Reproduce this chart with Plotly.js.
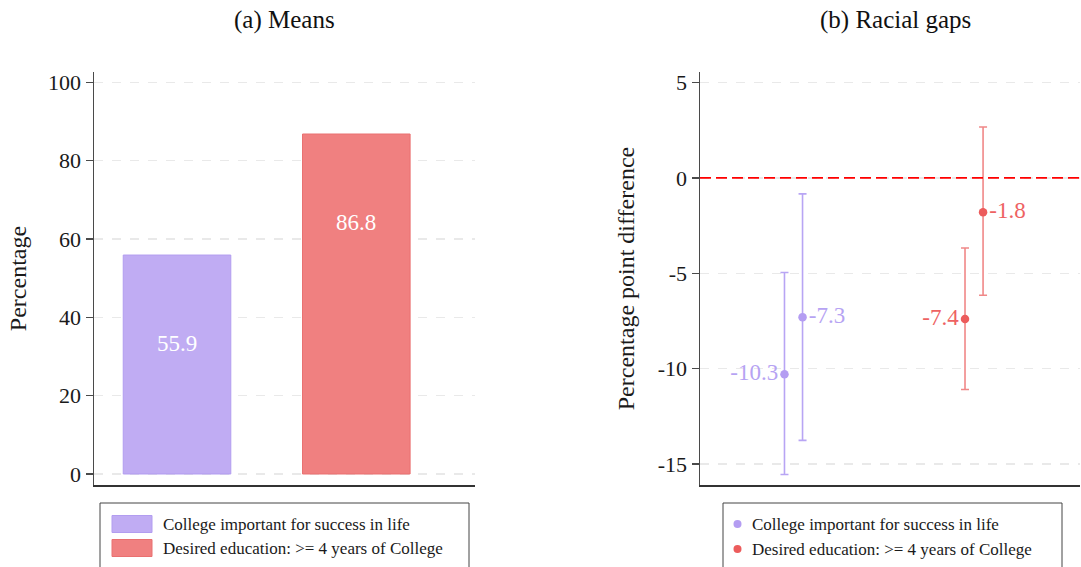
<!DOCTYPE html>
<html>
<head>
<meta charset="utf-8">
<script src="https://cdn.plot.ly/plotly-3.0.1.min.js"></script>
<style>
  html, body { margin: 0; padding: 0; background: #fff; }
  #chart { width: 1081px; height: 567px; }
</style>
</head>
<body>
<div id="chart"></div>
<script>
// Outcome names (shared by both panels)
const seriesNames = ['College important for success in life', 'Desired education: >= 4 years of College'];

// Panel (a): means, in percent
const meanValues = [55.9, 86.8];

// Panel (b): racial gaps (percentage points), two estimates per outcome, with 95% CIs
const gapCollege = [-10.3, -7.3];
const gapCollegeLow = [-15.55, -13.76];
const gapCollegeHigh = [-4.96, -0.84];
const gapDesired = [-7.4, -1.8];
const gapDesiredLow = [-11.09, -6.15];
const gapDesiredHigh = [-3.68, 2.67];

const leftTicks = [0, 20, 40, 60, 80, 100];
const rightTicks = [5, 0, -5, -10, -15];

const purpleFill = '#c0acf3';
const purpleLine = '#b29df0';
const purpleMark = '#b49df2';
const purpleText = '#b6a3f3';
const redFill = '#f08080';
const redLine = '#e97070';
const redMark = '#ec5c5c';
const redBar = '#f08888';
const redText = '#ee6262';

const serif = 'Liberation Serif, Times New Roman, serif';
const axisColor = '#4a4a4a';
const gridColor = '#e9e9e9';

const plotTop = 1 - 72 / 567;
const plotBottom = 1 - 485 / 567;

// Bars for panel (a)
const barTraces = meanValues.map((v, i) => ({
  type: 'bar',
  x: [i],
  y: [v],
  width: 0.6,
  name: seriesNames[i],
  marker: {
    color: i === 0 ? purpleFill : redFill,
    line: { color: i === 0 ? purpleLine : redLine, width: 1 }
  },
  xaxis: 'x', yaxis: 'y',
  showlegend: false,
  hoverinfo: 'skip'
}));

// Point estimates with error bars for panel (b)
const offset = 0.05;
function gapTrace(center, vals, lo, hi, mark, bar, txt, name) {
  return {
    type: 'scatter',
    mode: 'markers+text',
    x: vals.map((_, j) => center + (j === 0 ? -offset : offset)),
    y: vals,
    text: vals.map(v => v.toFixed(1)),
    textposition: ['middle left', 'middle right'],
    textfont: { family: serif, size: 23, color: txt },
    marker: { color: mark, size: 8.5 },
    error_y: {
      type: 'data',
      symmetric: false,
      array: vals.map((v, j) => hi[j] - v),
      arrayminus: vals.map((v, j) => v - lo[j]),
      color: bar,
      thickness: 1.6,
      width: 4
    },
    name: name,
    xaxis: 'x2', yaxis: 'y2',
    showlegend: false,
    hoverinfo: 'skip'
  };
}

const traces = barTraces.concat([
  gapTrace(0, gapCollege, gapCollegeLow, gapCollegeHigh, purpleMark, '#b8a5f4', purpleText, seriesNames[0]),
  gapTrace(1, gapDesired, gapDesiredLow, gapDesiredHigh, redMark, redBar, redText, seriesNames[1])
]);

const tickFont = { family: serif, size: 22, color: '#1a1a1a' };

const annotations = [];
// Value labels inside the bars
meanValues.forEach((v, i) => {
  annotations.push({
    xref: 'x', yref: 'y', x: i, y: v, yshift: -88,
    text: v.toFixed(1), showarrow: false,
    font: { family: serif, size: 23, color: '#ffffff' },
    xanchor: 'center', yanchor: 'middle'
  });
});
// Panel titles
annotations.push({
  xref: 'paper', yref: 'paper', x: (94 + 475) / 2 / 1081, y: 1 - 20 / 567,
  text: '(a) Means', showarrow: false, xanchor: 'center', yanchor: 'middle',
  font: { family: serif, size: 25, color: '#111' }
});
annotations.push({
  xref: 'paper', yref: 'paper', x: 895 / 1081, y: 1 - 20 / 567,
  text: '(b) Racial gaps', showarrow: false, xanchor: 'center', yanchor: 'middle',
  font: { family: serif, size: 25, color: '#111' }
});

const shapes = [
  // Reference line at zero gap
  {
    type: 'line', xref: 'x2 domain', yref: 'y2', x0: 0, x1: 1, y0: 0, y1: 0,
    line: { color: '#ff0000', width: 1.6, dash: '11px,5px' }, layer: 'above'
  }
];

// Legend boxes drawn under each panel
function addLegend(x0, x1, entries) {
  shapes.push({
    type: 'rect', xref: 'paper', yref: 'paper',
    x0: x0 / 1081, x1: x1 / 1081, y0: 1 - 580 / 567, y1: 1 - 503 / 567,
    line: { color: '#444', width: 1 }, fillcolor: 'rgba(0,0,0,0)'
  });
  entries.forEach(e => {
    if (e.kind === 'box') {
      shapes.push({
        type: 'rect', xref: 'paper', yref: 'paper',
        x0: e.sx0 / 1081, x1: e.sx1 / 1081, y0: 1 - (e.cy + 8.5) / 567, y1: 1 - (e.cy - 8.5) / 567,
        line: { color: e.line, width: 1 }, fillcolor: e.color
      });
    } else {
      shapes.push({
        type: 'circle', xref: 'paper', yref: 'paper',
        x0: (e.cx - 4) / 1081, x1: (e.cx + 4) / 1081, y0: 1 - (e.cy + 4) / 567, y1: 1 - (e.cy - 4) / 567,
        line: { width: 0 }, fillcolor: e.color
      });
    }
    annotations.push({
      xref: 'paper', yref: 'paper', x: e.tx / 1081, y: 1 - e.cy / 567,
      text: e.text, showarrow: false, xanchor: 'left', yanchor: 'middle',
      font: { family: serif, size: 17, color: '#1a1a1a' }
    });
  });
}
addLegend(100, 469, [
  { kind: 'box', sx0: 112, sx1: 152, cy: 524, color: purpleFill, line: purpleLine, tx: 161, text: seriesNames[0] },
  { kind: 'box', sx0: 112, sx1: 152, cy: 548, color: redFill, line: redLine, tx: 161, text: seriesNames[1] }
]);
addLegend(723, 1062, [
  { kind: 'dot', cx: 737.5, cy: 524, color: purpleMark, tx: 750, text: seriesNames[0] },
  { kind: 'dot', cx: 737.5, cy: 549, color: redMark, tx: 750, text: seriesNames[1] }
]);

const commonY = {
  showgrid: true, gridcolor: gridColor, gridwidth: 1.5, griddash: 'dash',
  zeroline: false, showline: true, linecolor: axisColor, linewidth: 1.5,
  ticks: 'outside', ticklen: 7, tickwidth: 1.5, tickcolor: axisColor,
  tickfont: tickFont
};
const commonX = {
  showgrid: false, zeroline: false, showticklabels: false, ticks: '',
  showline: true, linecolor: '#333', linewidth: 1.5
};

const layout = {
  width: 1081, height: 567,
  margin: { l: 0, r: 0, t: 0, b: 0 },
  paper_bgcolor: '#ffffff', plot_bgcolor: '#ffffff',
  showlegend: false,
  font: { family: serif, color: '#1a1a1a' },
  xaxis: Object.assign({}, commonX, { domain: [94 / 1081, 475 / 1081], range: [-0.463, 1.662], anchor: 'y' }),
  yaxis: Object.assign({}, commonY, {
    domain: [plotBottom, plotTop], range: [-2.81, 102.63], anchor: 'x',
    tickvals: leftTicks, ticktext: leftTicks.map(String),
    title: { text: 'Percentage', font: { family: serif, size: 24, color: '#1a1a1a' }, standoff: 14 }
  }),
  xaxis2: Object.assign({}, commonX, { domain: [700 / 1081, 1080 / 1081], range: [-0.518, 1.587], anchor: 'y2' }),
  yaxis2: Object.assign({}, commonY, {
    domain: [plotBottom, plotTop], range: [-16.1, 5.55], anchor: 'x2',
    tickvals: rightTicks, ticktext: rightTicks.map(String),
    title: { text: 'Percentage point difference', font: { family: serif, size: 24, color: '#1a1a1a' }, standoff: 16 }
  }),
  annotations: annotations,
  shapes: shapes
};

Plotly.newPlot('chart', traces, layout, { displayModeBar: false, staticPlot: true });
</script>
</body>
</html>
